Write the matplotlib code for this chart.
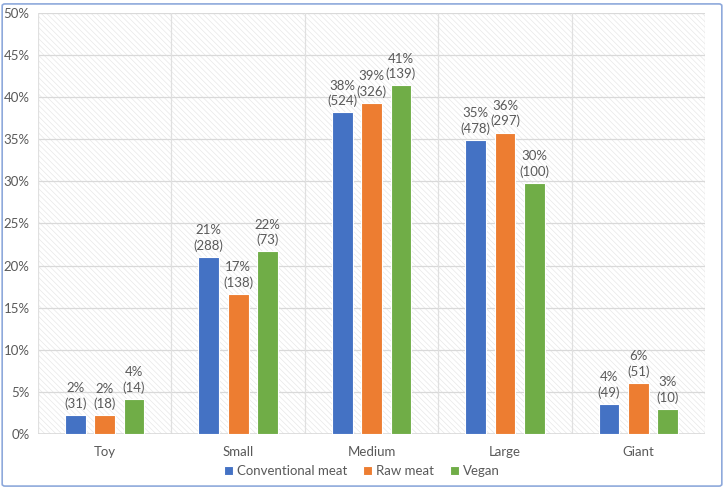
import matplotlib.pyplot as plt
import numpy as np
from matplotlib.patches import Rectangle, FancyBboxPatch

# data
categories = ['Toy', 'Small', 'Medium', 'Large', 'Giant']
series = ['Conventional meat', 'Raw meat', 'Vegan']
conventional = [2.3, 21.0, 38.2, 34.9, 3.6]
raw_meat = [2.2, 16.6, 39.3, 35.8, 6.1]
vegan = [4.2, 21.7, 41.4, 29.8, 3.0]
conventional_n = [31, 288, 524, 478, 49]
raw_meat_n = [18, 138, 326, 297, 51]
vegan_n = [14, 73, 139, 100, 10]

colors = ['#4472C4', '#ED7D31', '#70AD47']
text_col = '#595959'
grid_col = '#d9d9d9'

plt.rcParams['font.family'] = ['Lato', 'DejaVu Sans']
plt.rcParams['hatch.linewidth'] = 0.5

fig = plt.figure(figsize=(7.24, 4.90), dpi=100)
ax = fig.add_axes([0.0525, 0.1143, 0.9215, 0.8592])

# outer chart border
fig.patches.append(FancyBboxPatch((0.003, 0.008), 0.994, 0.984, boxstyle='round,pad=0,rounding_size=0.004',
                                  transform=fig.transFigure, fill=False, edgecolor='#8EA9DB', lw=1.2))

# hatched plot background
ax.add_patch(Rectangle((0, 0), 1, 1, transform=ax.transAxes, facecolor='white',
                       edgecolor='#e8e8e8', hatch='\\\\\\\\\\\\', lw=0, zorder=0))

x = np.arange(len(categories))
offsets = [-0.22, 0, 0.22]
width = 0.155
all_vals = [conventional, raw_meat, vegan]
all_n = [conventional_n, raw_meat_n, vegan_n]

for i in range(3):
    bars = ax.bar(x + offsets[i], all_vals[i], width, color=colors[i], edgecolor='white',
                  linewidth=0.8, label=series[i], zorder=3)
    for b, v, n in zip(bars, all_vals[i], all_n[i]):
        ax.text(b.get_x() + b.get_width() / 2, v + 0.6, f'{round(v):.0f}%\n({n})',
                ha='center', va='bottom', fontsize=9.5, color=text_col, linespacing=1.3, zorder=4)

ax.set_xlim(-0.5, 4.5)
ax.set_ylim(0, 50)
ax.set_yticks(np.arange(0, 51, 5))
ax.set_yticklabels([f'{t}%' for t in range(0, 51, 5)])
ax.set_xticks(x)
ax.set_xticklabels(categories)

# gridlines
for t in range(5, 51, 5):
    ax.axhline(t, color=grid_col, lw=0.9, zorder=1)
for b in np.arange(-0.5, 4.6, 1.0):
    ax.axvline(b, color='#e0e0e0', lw=0.9, zorder=1)
ax.axhline(0, color=grid_col, lw=1.2, zorder=2)

for s in ax.spines.values():
    s.set_visible(False)
ax.tick_params(length=0, colors=text_col, labelsize=9.5)
ax.tick_params(axis='x', pad=9)
ax.tick_params(axis='y', pad=6)

fig.legend(loc='center', bbox_to_anchor=(0.5, 0.039), ncol=3, frameon=False,
           fontsize=9.5, labelcolor=text_col, handlelength=0.7, handleheight=0.7,
           handletextpad=0.3, columnspacing=1.2)

plt.savefig('out.png', dpi=100)
